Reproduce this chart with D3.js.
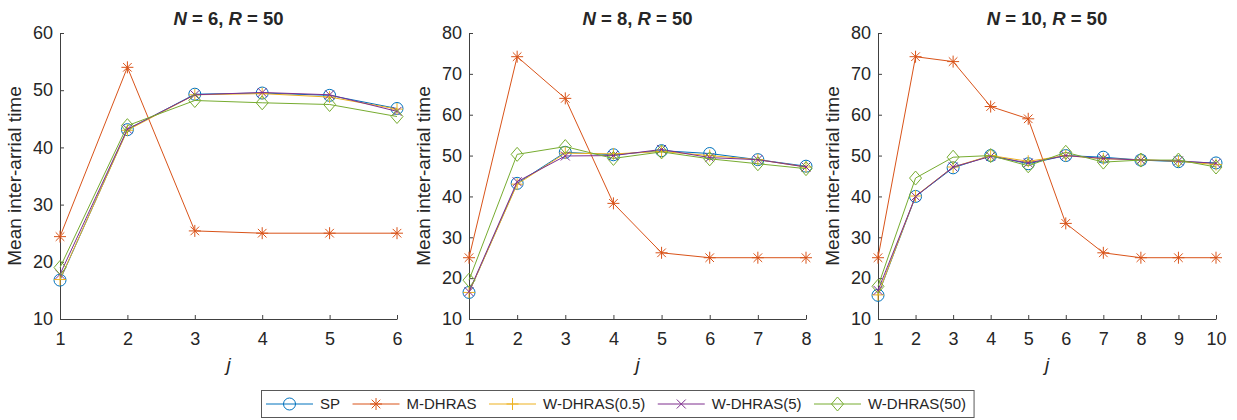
<!DOCTYPE html>
<html>
<head>
<meta charset="utf-8">
<script src="https://cdn.jsdelivr.net/npm/d3@7"></script>
<style>
   body { margin: 0; background: #fff; }
   text { font-family: Arial, "Liberation Sans", Helvetica, sans-serif; fill: #262626; }
</style>
</head>
<body>
<div id="chart"></div>
<script>
// series shared by every panel
var seriesNames = ["SP", "M-DHRAS", "W-DHRAS(0.5)", "W-DHRAS(5)", "W-DHRAS(50)"]
var seriesColors = ["#0072BD", "#D95319", "#EDB120", "#7E2F8E", "#77AC30"]
var seriesMarkers = ["circle", "asterisk", "plus", "cross", "diamond"]

// panel settings
var panelN = [6, 8, 10]
var panelR = [50, 50, 50]
var yTicksN6 = [10, 20, 30, 40, 50, 60]
var yTicksN8 = [10, 20, 30, 40, 50, 60, 70, 80]
var yTicksN10 = [10, 20, 30, 40, 50, 60, 70, 80]

// N = 6
var spN6   = [16.8, 43.1, 49.3, 49.5, 49.1, 46.8]
var mN6    = [24.4, 54.0, 25.4, 25.0, 25.0, 25.0]
var w05N6  = [16.9, 43.0, 49.2, 49.4, 48.8, 46.7]
var w5N6   = [17.8, 43.2, 49.2, 49.6, 49.2, 46.3]
var w50N6  = [19.0, 43.8, 48.2, 47.8, 47.5, 45.4]

// N = 8
var spN8   = [16.5, 43.2, 50.8, 50.2, 51.2, 50.5, 49.0, 47.4]
var mN8    = [25.0, 74.2, 64.0, 38.3, 26.2, 25.0, 25.0, 25.0]
var w05N8  = [16.5, 43.0, 50.6, 50.4, 51.0, 50.0, 49.0, 47.2]
var w5N8   = [16.7, 43.6, 49.9, 50.0, 51.5, 49.5, 49.0, 47.2]
var w50N8  = [19.5, 50.3, 52.2, 49.3, 50.9, 49.2, 48.0, 46.8]

// N = 10
var spN10  = [15.8, 40.0, 47.0, 50.0, 48.0, 50.0, 49.6, 48.9, 48.5, 48.2]
var mN10   = [25.0, 74.2, 73.0, 62.0, 59.0, 33.4, 26.2, 25.0, 25.0, 25.0]
var w05N10 = [15.9, 40.1, 47.2, 50.0, 48.6, 50.0, 49.2, 49.0, 48.6, 47.8]
var w5N10  = [17.0, 40.0, 47.2, 49.8, 48.2, 50.0, 49.3, 48.9, 48.7, 48.1]
var w50N10 = [18.0, 44.5, 49.6, 50.0, 47.5, 50.8, 48.4, 48.9, 48.9, 47.2]

var panels = [
   { n: panelN[0], r: panelR[0], yTicks: yTicksN6,  series: [spN6, mN6, w05N6, w5N6, w50N6] },
   { n: panelN[1], r: panelR[1], yTicks: yTicksN8,  series: [spN8, mN8, w05N8, w5N8, w50N8] },
   { n: panelN[2], r: panelR[2], yTicks: yTicksN10, series: [spN10, mN10, w05N10, w5N10, w50N10] }
]

var width = 1237
var height = 420
var panelLeft = [60, 469, 878]
var panelWidth = [337, 337, 338]
var plotTop = 33
var plotBottom = 319

var svg = d3.select("#chart").append("svg")
   .attr("width", width)
   .attr("height", height)

// draws one marker shape centred on 0,0
function drawMarker(g, type, color) {
   if(type == "circle") {
      g.append("circle").attr("r", 6)
         .attr("fill", "none").attr("stroke", color)
      return
   }
   let d = ""
   if(type == "plus" || type == "asterisk") {
      d += "M-6,0L6,0M0,-6L0,6"
   }
   if(type == "cross") {
      d += "M-4.5,-4.5L4.5,4.5M-4.5,4.5L4.5,-4.5"
   }
   if(type == "asterisk") {
      d += "M-4.3,-4.3L4.3,4.3M-4.3,4.3L4.3,-4.3"
   }
   if(type == "diamond") {
      d = "M0,-7L6,0L0,7L-6,0Z"
   }
   g.append("path").attr("d", d)
      .attr("fill", "none").attr("stroke", color).attr("stroke-width", 1)
}

function drawPanel(p, i) {
   let x0 = panelLeft[i]
   let xScale = d3.scaleLinear().domain([1, p.n]).range([x0, x0 + panelWidth[i]])
   let yScale = d3.scaleLinear()
      .domain([p.yTicks[0], p.yTicks[p.yTicks.length - 1]])
      .range([plotBottom, plotTop])

   let g = svg.append("g").attr("class", "panel")

   // axes, MATLAB style ticks pointing inwards
   let xAxis = d3.axisBottom(xScale)
      .tickValues(d3.range(1, p.n + 1))
      .tickFormat(d3.format("d"))
      .tickSizeInner(-4).tickSizeOuter(0).tickPadding(13)
   let yAxis = d3.axisLeft(yScale)
      .tickValues(p.yTicks)
      .tickSizeInner(-4).tickSizeOuter(0).tickPadding(7)

   let gx = g.append("g").attr("transform", "translate(0," + plotBottom + ")").call(xAxis)
   let gy = g.append("g").attr("transform", "translate(" + x0 + ",0)").call(yAxis)
   ;[gx, gy].forEach(function(a) {
      a.selectAll("path, line").attr("stroke", "#404040")
      a.selectAll("text").attr("font-size", 18).attr("fill", "#262626")
         .attr("font-family", "Arial, 'Liberation Sans', sans-serif")
   })

   // series lines then markers
   let line = d3.line()
      .x(function(d, k) { return xScale(k + 1) })
      .y(function(d) { return yScale(d) })

   p.series.forEach(function(vals, s) {
      g.append("path")
         .datum(vals)
         .attr("d", line)
         .attr("fill", "none")
         .attr("stroke", seriesColors[s])
         .attr("stroke-width", 1)

      let marks = g.selectAll("g.mark-" + s).data(vals)
         .enter().append("g")
            .attr("class", "mark-" + s)
            .attr("transform", function(d, k) {
               return "translate(" + xScale(k + 1) + "," + yScale(d) + ")"
            })
      marks.each(function() { drawMarker(d3.select(this), seriesMarkers[s], seriesColors[s]) })
   })

   // title with italic symbols
   let cx = x0 + panelWidth[i] / 2
   let title = g.append("text")
      .attr("x", cx).attr("y", 25)
      .attr("text-anchor", "middle")
      .attr("font-size", 18.5)
      .attr("font-weight", "bold")
   title.append("tspan").attr("font-style", "italic").text("N")
   title.append("tspan").text(" = " + p.n + ", ")
   title.append("tspan").attr("font-style", "italic").text("R")
   title.append("tspan").text(" = " + p.r)

   g.append("text")
      .attr("transform", "translate(" + (x0 - 39) + "," + ((plotTop + plotBottom) / 2) + ") rotate(-90)")
      .attr("text-anchor", "middle")
      .attr("font-size", 19)
      .text("Mean inter-arrial time")

   g.append("text")
      .attr("x", cx).attr("y", 371)
      .attr("text-anchor", "middle")
      .attr("font-size", 19)
      .attr("font-style", "italic")
      .text("j")
}

panels.forEach(drawPanel)

// legend along the bottom
function drawLegend() {
   let lg = svg.append("g").attr("class", "legend")
   let box = lg.append("rect")
   let x = 261 + 5
   let midY = 404
   let sampleLen = 47

   seriesNames.forEach(function(name, s) {
      lg.append("line")
         .attr("x1", x).attr("x2", x + sampleLen)
         .attr("y1", midY).attr("y2", midY)
         .attr("stroke", seriesColors[s]).attr("stroke-width", 1)
      let mk = lg.append("g").attr("transform", "translate(" + (x + sampleLen / 2) + "," + midY + ")")
      drawMarker(mk, seriesMarkers[s], seriesColors[s])
      let t = lg.append("text")
         .attr("x", x + sampleLen + 7).attr("y", midY)
         .attr("dy", "0.35em")
         .attr("font-size", 15)
         .text(name)
      x += sampleLen + 7 + t.node().getComputedTextLength() + 12.5
   })

   box.attr("x", 261.5).attr("y", 390.5)
      .attr("width", x - 261 - 5).attr("height", 27)
      .attr("fill", "#fff").attr("stroke", "#595959").attr("stroke-width", 1)
}

drawLegend()
</script>
</body>
</html>
